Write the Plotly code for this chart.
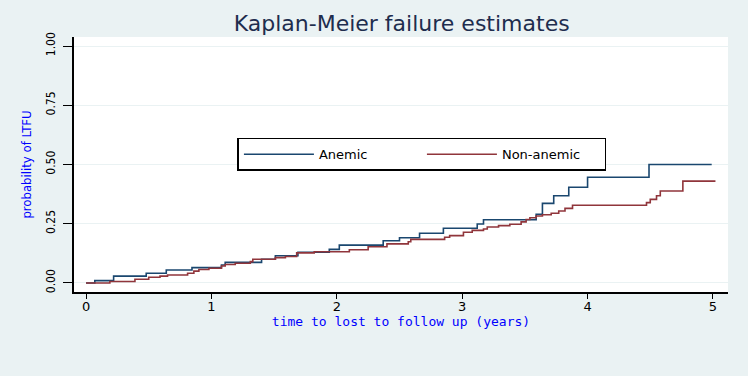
import plotly.graph_objects as go

# Kaplan-Meier failure estimates (step change points)
anemic_t = [0, 0.07, 0.22, 0.48, 0.64, 0.845, 1.08, 1.11, 1.40, 1.51, 1.69, 1.94, 2.02,
            2.37, 2.50, 2.66, 2.85, 3.12, 3.17, 3.59, 3.64, 3.73, 3.85, 4.00, 4.49, 4.99]
anemic_p = [0, 0.010, 0.029, 0.041, 0.055, 0.065, 0.076, 0.087, 0.100, 0.115, 0.130, 0.142, 0.160,
            0.178, 0.191, 0.210, 0.231, 0.249, 0.267, 0.290, 0.336, 0.368, 0.404, 0.446, 0.500, 0.500]

nonanemic_t = [0, 0.19, 0.39, 0.50, 0.59, 0.65, 0.81, 0.86, 0.90, 0.98, 1.08, 1.11, 1.19, 1.31,
               1.33, 1.51, 1.59, 1.68, 1.82, 2.10, 2.25, 2.40, 2.57, 2.59, 2.86, 2.90, 3.01,
               3.08, 3.17, 3.20, 3.29, 3.38, 3.47, 3.51, 3.54, 3.59, 3.64, 3.71, 3.77, 3.82,
               3.88, 4.47, 4.50, 4.55, 4.58, 4.76, 5.02]
nonanemic_p = [0, 0.006, 0.016, 0.024, 0.029, 0.034, 0.041, 0.050, 0.057, 0.062, 0.072, 0.078,
               0.083, 0.090, 0.100, 0.107, 0.112, 0.127, 0.132, 0.140, 0.153, 0.165, 0.174,
               0.184, 0.193, 0.200, 0.214, 0.222, 0.228, 0.236, 0.242, 0.248, 0.258, 0.268,
               0.275, 0.283, 0.288, 0.294, 0.304, 0.315, 0.328, 0.339, 0.353, 0.368, 0.388,
               0.430, 0.430]

x_ticks = [0, 1, 2, 3, 4, 5]
y_ticks = [0, 0.25, 0.5, 0.75, 1.0]
y_ticklabels = ["0.00", "0.25", "0.50", "0.75", "1.00"]

BG = "#EAF2F3"

fig = go.Figure()
fig.add_trace(go.Scatter(x=anemic_t, y=anemic_p, mode="lines", name="Anemic",
                         line=dict(color="#1A476F", width=1.6, shape="hv")))
fig.add_trace(go.Scatter(x=nonanemic_t, y=nonanemic_p, mode="lines", name="Non-anemic",
                         line=dict(color="#90353B", width=1.6, shape="hv")))

fig.update_layout(
    width=748, height=376,
    margin=dict(l=74, r=20, t=37, b=84),
    paper_bgcolor=BG, plot_bgcolor="white",
    font=dict(family="DejaVu Sans, sans-serif", color="#000000"),
    title=dict(text="Kaplan-Meier failure estimates", x=0.537, xanchor="center",
               y=0.938, yanchor="middle",
               font=dict(size=22, color="#1E2D4E", family="DejaVu Sans, sans-serif")),
    showlegend=True,
    legend=dict(orientation="h", x=0.532, xanchor="center", y=0.605, yanchor="top",
                bgcolor="white", bordercolor="#000000", borderwidth=1.5,
                font=dict(size=13, family="DejaVu Sans, sans-serif", color="#000000"),
                itemwidth=70, entrywidth=98, entrywidthmode="pixels",
                itemclick=False, itemdoubleclick=False),
    xaxis=dict(range=[-0.096, 5.12], tickvals=x_ticks, ticks="outside", ticklen=5,
               tickcolor="#000000", showline=True, linecolor="#000000", linewidth=1.5,
               ticklabelstandoff=-3,
               showgrid=False, zeroline=False,
               tickfont=dict(size=13, family="DejaVu Sans, sans-serif", color="#000000"),
               title=dict(text="time to lost to follow up (years)", standoff=0,
                          font=dict(size=13, family="DejaVu Sans Mono, monospace", color="#0000FF"))),
    yaxis=dict(range=[-0.038, 1.038], tickvals=y_ticks, ticktext=y_ticklabels,
               tickangle=-90, ticks="outside", ticklen=9, tickcolor="#000000",
               ticklabelstandoff=3,
               showline=True, linecolor="#000000", linewidth=1.5,
               showgrid=True, gridcolor=BG, gridwidth=1, zeroline=False,
               tickfont=dict(size=12, family="DejaVu Sans Condensed, DejaVu Sans, sans-serif",
                             color="#000000"),
               title=dict(text="probability of LTFU", standoff=10,
                          font=dict(size=13, family="DejaVu Sans Condensed, sans-serif",
                                    color="#0000FF"))),
)

fig.write_html("out.html",
               config={"displayModeBar": False},
               post_script="document.body.style.margin='0px';"
                           "document.body.style.background='" + BG + "';")
